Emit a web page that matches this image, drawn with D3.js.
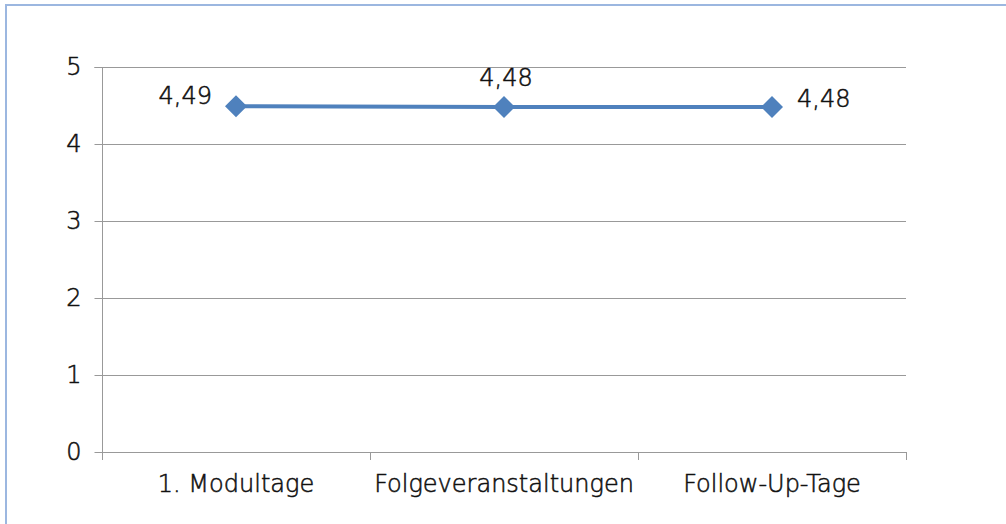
<!DOCTYPE html>
<html>
<head>
<meta charset="utf-8">
<script src="https://cdn.jsdelivr.net/npm/d3@7"></script>
<style>
  html, body { margin: 0; padding: 0; background: #fff; }
  svg { display: block; }
  text { font-family: "Century Gothic", "DejaVu Sans", sans-serif; font-weight: 200; fill: #111; stroke: #111; stroke-width: 0.55px; }
</style>
</head>
<body>
<svg id="chart" width="1006" height="524"></svg>
<script>
const categories = ["1. Modultage", "Folgeveranstaltungen", "Follow-Up-Tage"];
const values = [4.49, 4.48, 4.48];
const valueLabels = ["4,49", "4,48", "4,48"];
const yTicks = [0, 1, 2, 3, 4, 5];

(function () {
const svg = d3.select("#chart");
const W = 1006, H = 524;

// outer frame
svg.append("rect")
  .attr("x", 6).attr("y", 5).attr("width", W + 10).attr("height", H + 10)
  .attr("fill", "#fff").attr("stroke", "#9cb7e0").attr("stroke-width", 2);

const pLeft = 102, pRight = 906, pTop = 67, pBottom = 452;

const x = d3.scaleBand().domain(categories).range([pLeft, pRight]).paddingInner(0).paddingOuter(0);
const y = d3.scaleLinear().domain([0, 5]).range([pBottom, pTop]);

const fontSize = 24;

// gridlines
svg.append("g").selectAll("line").data(yTicks.filter(d => d > 0)).join("line")
  .attr("x1", pLeft).attr("x2", pRight)
  .attr("y1", d => Math.round(y(d)) + 0.5).attr("y2", d => Math.round(y(d)) + 0.5)
  .attr("stroke", "#999").attr("stroke-width", 1);

// y axis
const yAxis = svg.append("g").attr("transform", `translate(${pLeft + 0.5},0)`)
  .call(d3.axisLeft(y).tickValues(yTicks).tickSize(8).tickPadding(13).tickFormat(d3.format("d")));
yAxis.select(".domain").attr("stroke", "#999").attr("d", `M-8,${pTop + 0.5}H0V${pBottom + 0.5}`);
yAxis.selectAll(".tick line").attr("stroke", "#999");
yAxis.selectAll(".tick text").attr("font-size", fontSize).attr("fill", null)
  .attr("font-family", null);

// x axis
const xAxis = svg.append("g").attr("transform", `translate(0,${pBottom + 0.5})`)
  .call(d3.axisBottom(x).tickSize(0).tickPadding(22));
xAxis.select(".domain").attr("stroke", "#999").attr("d", `M${pLeft},0H${pRight}`);
xAxis.selectAll(".tick text").attr("font-size", fontSize).attr("fill", null).attr("font-family", null);
// category boundary ticks
const bounds = categories.map(c => x(c)).concat([pRight]);
svg.append("g").selectAll("line").data(bounds).join("line")
  .attr("x1", d => Math.round(d) + 0.5).attr("x2", d => Math.round(d) + 0.5)
  .attr("y1", pBottom).attr("y2", pBottom + 8)
  .attr("stroke", "#999");

// line
const cx = c => x(c) + x.bandwidth() / 2;
const pts = categories.map((c, i) => [cx(c), y(values[i])]);
svg.append("path").datum(pts)
  .attr("d", d3.line())
  .attr("fill", "none").attr("stroke", "#4f81bd").attr("stroke-width", 4);

// markers
svg.append("g").selectAll("path").data(pts).join("path")
  .attr("transform", d => `translate(${d[0]},${d[1]})`)
  .attr("d", "M0,-11L11,0L0,11L-11,0Z")
  .attr("fill", "#4f81bd");

// data labels: left, above, right
const labelPos = [
  { dx: -24, dy: -2, anchor: "end" },
  { dx: 2, dy: -21, anchor: "middle" },
  { dx: 25, dy: 0, anchor: "start" }
];
svg.append("g").selectAll("text").data(pts).join("text")
  .attr("x", (d, i) => d[0] + labelPos[i].dx)
  .attr("y", (d, i) => d[1] + labelPos[i].dy)
  .attr("text-anchor", (d, i) => labelPos[i].anchor)
  .attr("font-size", fontSize)
  .text((d, i) => valueLabels[i]);
})();
</script>
</body>
</html>
